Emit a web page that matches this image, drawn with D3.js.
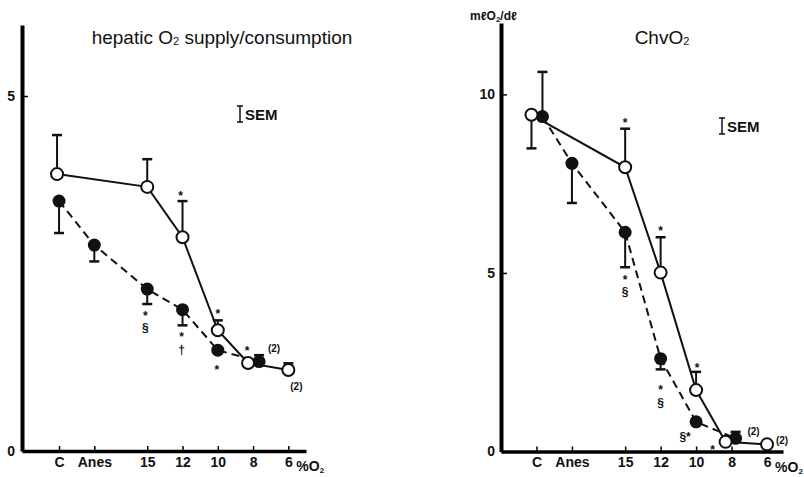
<!DOCTYPE html>
<html>
<head>
<meta charset="utf-8">
<script src="https://cdn.jsdelivr.net/npm/d3@7"></script>
<style>
  body { margin: 0; background: #fff; }
  svg { display: block; font-family: "Liberation Sans", Arial, sans-serif; }
  .tick text { font-family: "Liberation Sans Narrow", "Liberation Sans", Arial, sans-serif; font-weight: bold; font-size: 14px; fill: #111; }
  .note { font-family: "Liberation Sans", Arial, sans-serif; font-weight: bold; fill: #111; }
</style>
</head>
<body>
<div id="chart"></div>
<script>
// x categories (inspired O2 steps) and where they sit on the axis
const categories = ["C", "Anes", "15", "12", "10", "8", "6"];
const catPos = [0, 1, 2.5, 3.5, 4.5, 5.5, 6.5];

// hepatic O2 supply/consumption
// SEM: positive = bar drawn upward, negative = drawn downward
const hepOpen = [3.90, null, 3.72, 3.01, 1.70, 1.24, 1.14];
const hepOpenSem = [0.55, null, 0.39, 0.51, 0.14, null, 0.095];
const hepFilled = [3.52, 2.90, 2.28, 1.99, 1.42, 1.26, null];
const hepFilledSem = [-0.45, -0.23, -0.21, -0.22, null, 0.09, null];
// significance marks: [category, value, text, dx]  ("\n" stacks a second mark below)
const hepNotes = [
  ["12", 3.64, "*", -2],
  ["15", 1.95, "*\n§", -2],
  ["12", 1.65, "*\n†", -1],
  ["10", 1.97, "*", 0],
  ["10", 1.19, "*", -1],
  ["8", 1.46, "*", -6],
  ["8", 1.45, "(2)", 21],
  ["6", 0.91, "(2)", 8]
];

// ChvO2 (ml O2/dl)
const chvOpen = [9.43, null, 7.96, 5.01, 1.72, 0.27, 0.20];
const chvOpenSem = [-0.94, null, 1.08, 0.99, 0.51, null, null];
const chvFilled = [9.38, 8.07, 6.14, 2.60, 0.83, 0.37, null];
const chvFilledSem = [1.25, -1.11, -0.98, -0.30, null, 0.18, null];
const chvNotes = [
  ["15", 9.30, "*", 0],
  ["12", 6.26, "*", 0],
  ["15", 4.90, "*\n§", 0],
  ["12", 1.80, "*\n§", 0],
  ["10", 2.42, "*", 1],
  ["10", 0.41, "§*", -11],
  ["8", 0.13, "*", -19],
  ["8", 0.55, "(2)", 22],
  ["6", 0.32, "(2)", 15]
];

const svg = d3.select("#chart").append("svg")
  .attr("width", 804).attr("height", 477);

function drawPanel(cfg) {
  const x = d3.scaleLinear().domain(cfg.xDomain).range(cfg.xRange);
  const y = d3.scaleLinear().domain(cfg.yDomain).range(cfg.yRange);
  const posOf = (c) => catPos[categories.indexOf(c)];
  const g = svg.append("g");

  // axes
  const xAxis = d3.axisBottom(x)
    .tickValues(catPos)
    .tickFormat((d, i) => categories[i])
    .tickSizeInner(-5).tickSizeOuter(0).tickPadding(6);
  const gx = g.append("g")
    .attr("transform", `translate(0,${cfg.yRange[0]})`)
    .call(xAxis);
  gx.select(".domain").attr("stroke-width", 3.5);
  gx.selectAll(".tick line").attr("stroke-width", 1.5);

  const yAxis = d3.axisLeft(y)
    .tickValues(cfg.yTicks)
    .tickFormat(d3.format("d"))
    .tickSizeInner(-6).tickSizeOuter(0).tickPadding(cfg.yPad);
  const gy = g.append("g")
    .attr("transform", `translate(${cfg.xRange[0]},0)`)
    .call(yAxis);
  gy.select(".domain").attr("stroke-width", 4);
  gy.selectAll(".tick line").attr("stroke-width", 1.5);
  gy.selectAll(".tick text").attr("font-size", 15);

  // %O2 after last tick label
  const pct = g.append("text")
    .attr("x", x(6.5) + 8).attr("y", cfg.yRange[0] + 20)
    .attr("font-size", 14).attr("font-weight", "bold").attr("fill", "#111")
    .attr("font-family", "'Liberation Sans Narrow', 'Liberation Sans', Arial, sans-serif")
    .text("%O");
  pct.append("tspan").attr("font-size", 8).attr("dy", 2).text("2");

  // series points
  const pts = (vals, sems, dodge) => vals.map((v, i) => ({
    cx: x(catPos[i]) + (dodge[categories[i]] || 0),
    v, sem: sems[i]
  })).filter((d) => d.v !== null);
  const openPts = pts(cfg.open, cfg.openSem, cfg.dodgeOpen);
  const filledPts = pts(cfg.filled, cfg.filledSem, cfg.dodgeFilled);

  const line = d3.line().x((d) => d.cx).y((d) => y(d.v));
  g.append("path").datum(filledPts).attr("d", line)
    .attr("fill", "none").attr("stroke", "#111").attr("stroke-width", 2)
    .attr("stroke-dasharray", "8,5");
  g.append("path").datum(openPts).attr("d", line)
    .attr("fill", "none").attr("stroke", "#111").attr("stroke-width", 2);

  // error bars
  const bars = openPts.concat(filledPts).filter((d) => d.sem);
  g.selectAll(null).data(bars).enter().append("line")
    .attr("x1", (d) => d.cx).attr("x2", (d) => d.cx)
    .attr("y1", (d) => y(d.v)).attr("y2", (d) => y(d.v + d.sem))
    .attr("stroke", "#111").attr("stroke-width", 2);
  g.selectAll(null).data(bars).enter().append("line")
    .attr("x1", (d) => d.cx - 5).attr("x2", (d) => d.cx + 5)
    .attr("y1", (d) => y(d.v + d.sem)).attr("y2", (d) => y(d.v + d.sem))
    .attr("stroke", "#111").attr("stroke-width", 2.5);

  // markers: filled first, open on top
  g.selectAll(null).data(filledPts).enter().append("circle")
    .attr("cx", (d) => d.cx).attr("cy", (d) => y(d.v)).attr("r", 6.5)
    .attr("fill", "#111");
  g.selectAll(null).data(openPts).enter().append("circle")
    .attr("cx", (d) => d.cx).attr("cy", (d) => y(d.v)).attr("r", 6)
    .attr("fill", "#fff").attr("stroke", "#111").attr("stroke-width", 2);

  // significance marks ("*" sits high in the font, so nudge it down)
  const notes = g.selectAll(null).data(cfg.notes).enter().append("text")
    .attr("class", "note")
    .attr("y", (d) => y(d[1]))
    .attr("text-anchor", "middle")
    .attr("font-size", (d) => d[2].startsWith("(") ? 10 : 12);
  notes.each(function (d) {
    const cx = x(posOf(d[0])) + d[3];
    d[2].split("\n").forEach((s, i) => {
      d3.select(this).append("tspan")
        .attr("x", cx)
        .attr("dy", i === 0 ? (s === "*" ? "0.6em" : "0.35em") : "1.05em")
        .text(s);
    });
  });

  // title
  const t = g.append("text")
    .attr("x", cfg.titleX).attr("y", 44)
    .attr("text-anchor", "middle").attr("font-size", 19).attr("fill", "#111")
    .text(cfg.title[0]);
  t.append("tspan").attr("font-size", 11).attr("dy", 1).text("2");
  if (cfg.title[1]) t.append("tspan").attr("dy", -1).text(cfg.title[1]);

  // SEM key
  const kx = cfg.semX, ky = cfg.semY;
  g.append("line").attr("x1", kx).attr("x2", kx).attr("y1", ky - 8).attr("y2", ky + 8)
    .attr("stroke", "#111").attr("stroke-width", 1.5);
  [ky - 8, ky + 8].forEach((yy) => g.append("line")
    .attr("x1", kx - 3).attr("x2", kx + 3).attr("y1", yy).attr("y2", yy)
    .attr("stroke", "#111").attr("stroke-width", 1.5));
  g.append("text").attr("x", kx + 5).attr("y", ky + 6)
    .attr("font-size", 15).attr("font-weight", "bold").attr("fill", "#111")
    .text("SEM");
}

drawPanel({
  xDomain: [-1.05, 7], xRange: [22, 306],
  yDomain: [0, 6], yRange: [451, 25], yTicks: [0, 5], yPad: 7,
  open: hepOpen, openSem: hepOpenSem,
  filled: hepFilled, filledSem: hepFilledSem,
  dodgeOpen: { "8": -5, "C": -2 }, dodgeFilled: { "8": 6 },
  notes: hepNotes,
  title: ["hepatic O", " supply/consumption"], titleX: 222,
  semX: 240, semY: 114
});

drawPanel({
  xDomain: [-1, 6.95], xRange: [501, 783],
  yDomain: [0, 12], yRange: [451.5, 23], yTicks: [0, 5, 10], yPad: 6,
  open: chvOpen, openSem: chvOpenSem,
  filled: chvFilled, filledSem: chvFilledSem,
  dodgeOpen: { "C": -5, "8": -6 }, dodgeFilled: { "C": 6, "8": 4 },
  notes: chvNotes,
  title: ["ChvO", ""], titleX: 662,
  semX: 722, semY: 126
});

// unit label over the right axis
const unit = svg.append("text").attr("x", 470).attr("y", 20)
  .attr("font-size", 12).attr("font-weight", "bold").attr("fill", "#111")
  .text("mℓO");
unit.append("tspan").attr("font-size", 8).attr("dy", 2).text("2");
unit.append("tspan").attr("dy", -2).text("/dℓ");
</script>
</body>
</html>
